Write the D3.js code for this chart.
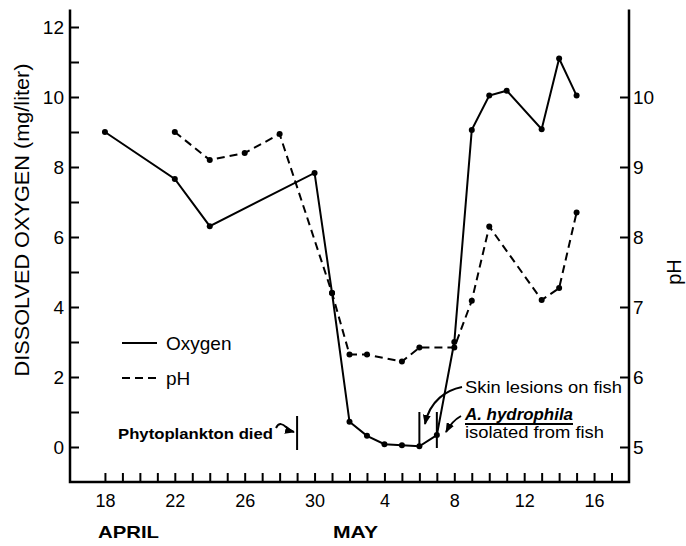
<!DOCTYPE html>
<html>
<head>
<meta charset="utf-8">
<script src="https://cdn.jsdelivr.net/npm/d3@7"></script>
<style>
  body { margin: 0; background: #fff; }
  svg { display: block; font-family: "Liberation Sans", Arial, sans-serif; }
</style>
</head>
<body>
<svg id="chart" width="686" height="546"></svg>
<script>
// days counted from April 1 (May 1 = 31)
var oxDays = [18, 22, 24, 30, 31, 32, 33, 34, 35, 36, 37, 38, 39, 40, 41, 43, 44, 45]
var oxygen = [9.0, 7.66, 6.31, 7.83, 4.4, 0.72, 0.32, 0.08, 0.05, 0.02, 0.34, 3.0, 9.06, 10.04, 10.18, 9.08, 11.1, 10.04]

var phDays = [22, 24, 26, 28, 31, 32, 33, 35, 36, 38, 39, 40, 43, 44, 45]
var ph = [9.5, 9.1, 9.2, 9.47, 7.2, 6.32, 6.32, 6.22, 6.42, 6.42, 7.09, 8.15, 7.1, 7.27, 8.35]

var xTickDays = [18, 22, 26, 30, 34, 38, 42, 46]
var xTickLabels = ["18", "22", "26", "30", "4", "8", "12", "16"]
var oxTicks = [0, 2, 4, 6, 8, 10, 12]
var phTicks = [5, 6, 7, 8, 9, 10]

var markerDays = [29, 36, 37]

var svg = d3.select("#chart")

var x = d3.scaleLinear().domain([16, 48]).range([70, 629])
var yO = d3.scaleLinear().domain([-1, 12]).range([482, 27])
var yP = d3.scaleLinear().domain([4.5, 11]).range([482, 27])

var ink = "#000"

// arrow head
svg.append("defs").append("marker")
    .attr("id", "head")
    .attr("viewBox", "0 0 10 8")
    .attr("refX", 9).attr("refY", 4)
    .attr("markerWidth", 10).attr("markerHeight", 8)
    .attr("markerUnits", "userSpaceOnUse")
    .attr("orient", "auto")
  .append("path")
    .attr("d", "M0,0 L10,4 L0,8 Z")
    .attr("fill", ink)

function styleAxis(g, size) {
  g.select(".domain").remove()
  g.selectAll(".tick line").attr("stroke", ink).attr("stroke-width", 2)
  g.selectAll(".tick text")
    .attr("fill", ink)
    .style("font-size", size + "px")
    .style("font-family", "'Liberation Sans', Arial, sans-serif")
}

// left axis
var gl = svg.append("g").attr("transform", "translate(70,0)")
  .call(d3.axisLeft(yO).tickValues(d3.range(0, 13)).tickSize(-9).tickPadding(6)
    .tickFormat(function(d) { return oxTicks.indexOf(d) >= 0 ? d : "" }))
styleAxis(gl, 19)

// right axis
var gr = svg.append("g").attr("transform", "translate(629,0)")
  .call(d3.axisRight(yP).tickValues(phTicks).tickSize(-9).tickPadding(4)
    .tickFormat(d3.format("d")))
styleAxis(gr, 19)

// bottom axis
var gb = svg.append("g").attr("transform", "translate(0,482)")
  .call(d3.axisBottom(x).tickValues(d3.range(18, 48)).tickSize(-9).tickPadding(12)
    .tickFormat(function(d) {
      var i = xTickDays.indexOf(d)
      return i >= 0 ? xTickLabels[i] : ""
    }))
styleAxis(gb, 18)

// axis frame lines
svg.append("path")
  .attr("d", "M70," + yO(12.5) + "V482H629V" + yP(11.25))
  .attr("fill", "none").attr("stroke", ink).attr("stroke-width", 2.5)

// lines
var lineO = d3.line().x(function(d, i) { return x(oxDays[i]) }).y(function(d) { return yO(d) })
var lineP = d3.line().x(function(d, i) { return x(phDays[i]) }).y(function(d) { return yP(d) })

svg.append("path").attr("d", lineP(ph))
  .attr("fill", "none").attr("stroke", ink).attr("stroke-width", 2)
  .attr("stroke-dasharray", "8,5")
svg.append("path").attr("d", lineO(oxygen))
  .attr("fill", "none").attr("stroke", ink).attr("stroke-width", 2)

svg.selectAll(".dotP").data(ph).enter().append("circle")
  .attr("cx", function(d, i) { return x(phDays[i]) })
  .attr("cy", function(d) { return yP(d) })
  .attr("r", 3).attr("fill", ink)
svg.selectAll(".dotO").data(oxygen).enter().append("circle")
  .attr("cx", function(d, i) { return x(oxDays[i]) })
  .attr("cy", function(d) { return yO(d) })
  .attr("r", 3).attr("fill", ink)

// event markers
svg.append("line").attr("x1", x(markerDays[0])).attr("x2", x(markerDays[0]))
  .attr("y1", 416).attr("y2", 450).attr("stroke", ink).attr("stroke-width", 2)
svg.selectAll(".mk").data(markerDays.slice(1)).enter().append("line")
  .attr("x1", function(d) { return x(d) }).attr("x2", function(d) { return x(d) })
  .attr("y1", 412).attr("y2", 448).attr("stroke", ink).attr("stroke-width", 2)

// legend
svg.append("line").attr("x1", 122).attr("x2", 157).attr("y1", 343).attr("y2", 343)
  .attr("stroke", ink).attr("stroke-width", 2)
svg.append("line").attr("x1", 122).attr("x2", 158).attr("y1", 378).attr("y2", 378)
  .attr("stroke", ink).attr("stroke-width", 2).attr("stroke-dasharray", "8,5")
svg.append("text").attr("x", 166).attr("y", 350).attr("font-size", 19).text("Oxygen")
svg.append("text").attr("x", 166).attr("y", 385).attr("font-size", 19).text("pH")

// axis titles
svg.append("text").attr("transform", "translate(29,220) rotate(-90)")
  .attr("text-anchor", "middle").attr("font-size", 21)
  .attr("textLength", 313).attr("lengthAdjust", "spacingAndGlyphs")
  .text("DISSOLVED OXYGEN (mg/liter)")
svg.append("text").attr("transform", "translate(681,272) rotate(-90)")
  .attr("text-anchor", "middle").attr("font-size", 20).text("pH")

// month labels
svg.append("text").attr("x", 98).attr("y", 538).attr("font-size", 17).attr("font-weight", "bold")
  .attr("textLength", 61).attr("lengthAdjust", "spacingAndGlyphs").text("APRIL")
svg.append("text").attr("x", 333).attr("y", 538).attr("font-size", 17).attr("font-weight", "bold")
  .attr("textLength", 45).attr("lengthAdjust", "spacingAndGlyphs").text("MAY")

// annotations
svg.append("text").attr("x", 118).attr("y", 439).attr("font-size", 15).attr("font-weight", "bold")
  .attr("textLength", 155).attr("lengthAdjust", "spacingAndGlyphs").text("Phytoplankton died")
svg.append("path").attr("d", "M276,428 C279,422 283,424 286,427 S290,431 294,432")
  .attr("fill", "none").attr("stroke", ink).attr("stroke-width", 2).attr("marker-end", "url(#head)")

svg.append("text").attr("x", 465).attr("y", 393).attr("font-size", 17)
  .attr("textLength", 157).attr("lengthAdjust", "spacingAndGlyphs").text("Skin lesions on fish")
svg.append("path").attr("d", "M462,387 C447,390 430,400 425,424")
  .attr("fill", "none").attr("stroke", ink).attr("stroke-width", 2).attr("marker-end", "url(#head)")

svg.append("text").attr("x", 465).attr("y", 420).attr("font-size", 17)
  .attr("font-style", "italic").attr("font-weight", "bold")
  .attr("textLength", 108).attr("lengthAdjust", "spacingAndGlyphs").text("A. hydrophila")
svg.append("line").attr("x1", 465).attr("x2", 573).attr("y1", 424).attr("y2", 424)
  .attr("stroke", ink).attr("stroke-width", 2)
svg.append("text").attr("x", 465).attr("y", 438).attr("font-size", 17)
  .attr("textLength", 139).attr("lengthAdjust", "spacingAndGlyphs").text("isolated from fish")
svg.append("path").attr("d", "M461,416 Q452,421 446,432")
  .attr("fill", "none").attr("stroke", ink).attr("stroke-width", 2).attr("marker-end", "url(#head)")
</script>
</body>
</html>
